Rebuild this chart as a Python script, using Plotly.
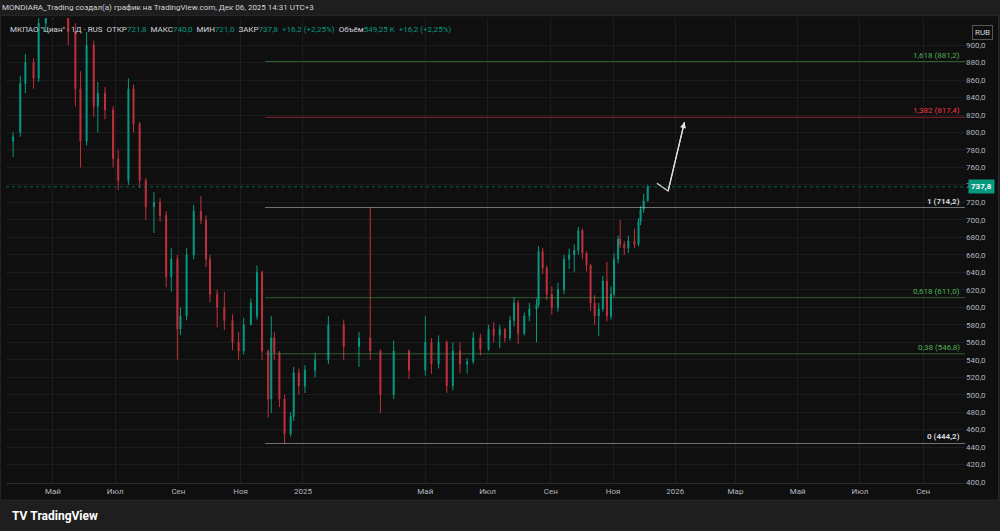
import plotly.graph_objects as go

dates = ["2024-03-23", "2024-03-30", "2024-04-04", "2024-04-12", "2024-04-17", "2024-04-24",
         "2024-05-01", "2024-05-09", "2024-05-16", "2024-05-23", "2024-05-28", "2024-06-03",
         "2024-06-10", "2024-06-14", "2024-06-21", "2024-06-29", "2024-07-04", "2024-07-14",
         "2024-07-19", "2024-07-25", "2024-07-31", "2024-08-08", "2024-08-14", "2024-08-20",
         "2024-08-25", "2024-08-31", "2024-09-03", "2024-09-09", "2024-09-16", "2024-09-23",
         "2024-09-28", "2024-10-02", "2024-10-09", "2024-10-16", "2024-10-24", "2024-10-30",
         "2024-11-04", "2024-11-11", "2024-11-17", "2024-11-22", "2024-11-28", "2024-12-01",
         "2024-12-04", "2024-12-09", "2024-12-14", "2024-12-20", "2024-12-23", "2024-12-28",
         "2025-01-03", "2025-01-13", "2025-01-26", "2025-02-10", "2025-02-25", "2025-03-08",
         "2025-03-18", "2025-03-31", "2025-04-15", "2025-05-01", "2025-05-07", "2025-05-14",
         "2025-05-22", "2025-05-28", "2025-06-04", "2025-06-11", "2025-06-17", "2025-06-24",
         "2025-07-02", "2025-07-07", "2025-07-13", "2025-07-18", "2025-07-23", "2025-07-27",
         "2025-07-31", "2025-08-06", "2025-08-11", "2025-08-18", "2025-08-20", "2025-08-24",
         "2025-08-28", "2025-09-02", "2025-09-08", "2025-09-14", "2025-09-19", "2025-09-24",
         "2025-09-28", "2025-10-02", "2025-10-06", "2025-10-10", "2025-10-14", "2025-10-18",
         "2025-10-22", "2025-10-26", "2025-10-30", "2025-11-02", "2025-11-06", "2025-11-08",
         "2025-11-12", "2025-11-16", "2025-11-22", "2025-11-26", "2025-11-28", "2025-12-01",
         "2025-12-05"]
opens = [790, 800, 856, 880, 862, 925, 950, 965, 955, 915, 850, 790, 900, 830, 845, 826, 770, 745,
         850, 810, 745, 715, 720, 705, 635, 655, 575, 590, 660, 710, 700, 655, 615, 600, 585, 560,
         550, 580, 590, 640, 550, 495, 565, 548, 495, 455, 475, 525, 510, 528, 540, 580, 555, 565,
         550, 500, 550, 528, 560, 535, 560, 510, 550, 535, 538, 565, 552, 575, 568, 575, 565, 585,
         605, 570, 590, 598, 603, 664, 645, 615, 600, 620, 655, 660, 665, 688, 662, 648, 605, 590,
         598, 630, 590, 615, 655, 678, 672, 668, 676, 672, 698, 712, 721.8]
highs = [800, 865, 890, 885, 935, 960, 975, 980, 965, 925, 870, 915, 905, 858, 852, 830, 780, 862,
         855, 812, 748, 732, 725, 710, 668, 660, 600, 668, 717, 727, 705, 660, 620, 618, 592, 572,
         588, 610, 648, 642, 552, 590, 572, 550, 500, 480, 532, 530, 534, 548, 590, 586, 572, 714,
         552, 562, 552, 590, 565, 568, 562, 560, 560, 542, 572, 570, 580, 583, 580, 576, 590, 612,
         608, 594, 605, 610, 670, 668, 648, 624, 628, 660, 667, 672, 692, 690, 664, 650, 614, 605,
         636, 652, 624, 662, 682, 700, 676, 682, 690, 702, 716, 730, 740]
lows = [772, 795, 845, 850, 858, 915, 930, 940, 900, 830, 760, 785, 818, 800, 815, 760, 734, 740,
        800, 737, 700, 685, 698, 623, 618, 540, 568, 585, 655, 695, 646, 606, 577, 574, 551, 540,
        546, 583, 586, 540, 474, 479, 540, 486, 444, 452, 470, 500, 502, 520, 535, 540, 532, 540,
        479, 495, 518, 522, 524, 530, 502, 505, 525, 524, 535, 545, 550, 560, 553, 560, 562, 578,
        558, 568, 584, 560, 600, 638, 608, 592, 595, 615, 644, 640, 660, 655, 641, 596, 580, 567,
        595, 584, 586, 612, 650, 668, 660, 662, 668, 670, 694, 708, 721]
closes = [795, 856, 880, 862, 925, 950, 965, 955, 915, 850, 790, 900, 830, 845, 826, 770, 745, 850,
          810, 745, 715, 720, 705, 635, 655, 575, 590, 660, 710, 700, 655, 615, 600, 585, 560, 550,
          580, 605, 640, 550, 495, 565, 548, 495, 455, 475, 525, 510, 528, 540, 580, 555, 565, 550,
          500, 550, 528, 560, 535, 560, 510, 550, 535, 538, 565, 552, 575, 568, 575, 565, 585, 605,
          570, 590, 598, 603, 664, 645, 615, 600, 620, 655, 660, 665, 688, 662, 648, 605, 590, 598,
          630, 590, 615, 655, 678, 672, 668, 676, 672, 698, 712, 721.8, 737.8]

fib_ratios = ["1,618", "1,382", "1", "0,618", "0,38", "0"]
fib_prices = [881.2, 817.4, 714.2, 611.0, 546.8, 444.2]
fib_colors = ["#4caf50", "#f23645", "#d1d4dc", "#4caf50", "#4caf50", "#d1d4dc"]
fib_start = "2024-11-25"
fib_end = "2026-10-12"

arrow_dates = ["2025-12-14", "2025-12-25", "2026-01-10"]
arrow_prices = [742, 733, 812]

tick_dates = ["2024-05-01", "2024-07-01", "2024-09-01", "2024-11-01", "2025-01-01", "2025-05-01",
              "2025-07-01", "2025-09-01", "2025-11-01", "2026-01-01", "2026-03-01", "2026-05-01",
              "2026-07-01", "2026-09-01"]
tick_text = ["Май", "Июл", "Сен", "Ноя", "2025", "Май", "Июл", "Сен", "Ноя", "2026", "Мар", "Май",
             "Июл", "Сен"]
y_ticks = list(range(400, 901, 20))

last_price = 737.8

fig = go.Figure()
fig.add_trace(go.Candlestick(
    x=dates, open=opens, high=highs, low=lows, close=closes,
    increasing=dict(line=dict(color="#089981", width=1), fillcolor="#089981"),
    decreasing=dict(line=dict(color="#c2303d", width=1), fillcolor="#c2303d"),
    whiskerwidth=0, showlegend=False, hoverinfo="skip"
))

# fibonacci levels
for r, p, c in zip(fib_ratios, fib_prices, fib_colors):
    fig.add_shape(type="line", xref="x", yref="y", x0=fib_start, x1=fib_end, y0=p, y1=p,
                  line=dict(color=c, width=1), opacity=0.5)
    label = f"{r} ({p:.1f})".replace(".", ",")
    if r == "1" or r == "0":
        label = "<b>" + label + "</b>"
    fig.add_annotation(xref="paper", yref="y", x=0.997, y=p, text=label,
                       showarrow=False, xanchor="right", yanchor="bottom",
                       font=dict(size=8, color=c, family="Roboto"))

# current price line
fig.add_shape(type="line", xref="paper", yref="y", x0=0, x1=1, y0=last_price, y1=last_price,
              line=dict(color="#089981", width=1, dash="dot"), opacity=0.6)
fig.add_annotation(xref="paper", yref="y", x=1.003, y=last_price, text="<b>737,8</b>",
                   showarrow=False, xanchor="left", bgcolor="#089981",
                   font=dict(size=8, color="#ffffff", family="Roboto"), borderpad=2)

# arrow drawing
fig.add_trace(go.Scatter(x=arrow_dates, y=arrow_prices, mode="lines",
                         line=dict(color="#e0e0e0", width=1.2), showlegend=False, hoverinfo="skip"))
fig.add_annotation(x=arrow_dates[2], y=arrow_prices[2], ax=arrow_dates[1], ay=arrow_prices[1],
                   xref="x", yref="y", axref="x", ayref="y", text="", showarrow=True,
                   arrowhead=2, arrowsize=1, arrowwidth=1.2, arrowcolor="#e0e0e0")

# header texts
fig.add_annotation(xref="paper", yref="paper", x=-0.006, y=1.022, xanchor="left", yanchor="middle",
                   text="MONDIARA_Trading создал(а) график на TradingView.com, Дек 06, 2025 14:31 UTC+3",
                   showarrow=False, font=dict(size=8, color="#d1d4dc", family="Roboto"))
g = "#089981"
fig.add_annotation(xref="paper", yref="paper", x=0.002, y=0.99, xanchor="left", yanchor="top",
                   text=("МКПАО \"Циан\" · 1Д · RUS  ОТКР<span style='color:%s'>721,8</span>  МАКС<span style='color:%s'>740,0</span>"
                         "  МИН<span style='color:%s'>721,0</span>  ЗАКР<span style='color:%s'>737,8  +16,2 (+2,25%%)</span>"
                         "  Объём<span style='color:%s'>549,25 K  +16,2 (+2,25%%)</span>") % (g, g, g, g, g),
                   showarrow=False, font=dict(size=8, color="#d1d4dc", family="Roboto"))
fig.add_annotation(xref="paper", yref="paper", x=1.018, y=0.985, xanchor="center", yanchor="top",
                   text="RUB", showarrow=False, bordercolor="#555", borderwidth=1, borderpad=2,
                   font=dict(size=8, color="#d1d4dc", family="Roboto"))
fig.add_annotation(xref="paper", yref="paper", x=0.004, y=-0.07, xanchor="left", yanchor="middle",
                   text="<b>TV</b> <b>TradingView</b>", showarrow=False,
                   font=dict(size=12, color="#ffffff", family="Roboto"))

# chart panel background
fig.add_shape(type="rect", xref="paper", yref="paper", x0=-0.006, x1=1.035, y0=-0.037, y1=1.005,
              fillcolor="#0f0f0f", line=dict(color="#2a2a2a", width=1), layer="below")

fig.update_layout(
    width=1000, height=531,
    margin=dict(l=6, r=35, t=18, b=48),
    paper_bgcolor="#1e1e1e", plot_bgcolor="#0f0f0f",
    xaxis=dict(type="date", range=["2024-03-16", fib_end], rangeslider=dict(visible=False),
               tickvals=tick_dates, ticktext=tick_text, showgrid=True, gridcolor="#1c1c1c",
               tickfont=dict(size=8, color="#b2b5be", family="Roboto"), ticks="", zeroline=False,
               showline=True, linecolor="#2a2a2a"),
    yaxis=dict(side="right", range=[399, 931], tickvals=y_ticks,
               ticktext=[f"{v},0" for v in y_ticks], showgrid=True, gridcolor="#1c1c1c",
               tickfont=dict(size=8, color="#b2b5be", family="Roboto"), zeroline=False, ticks=""),
)

fig.write_html("out.html", config={"displayModeBar": False},
               post_script="document.body.style.margin='0';")
